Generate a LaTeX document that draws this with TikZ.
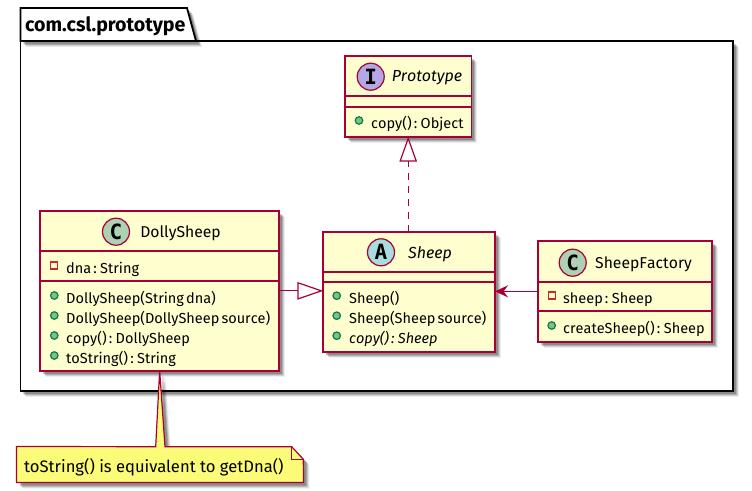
\documentclass[tikz,border=0pt]{standalone}
\usepackage{fontspec}
\setmainfont{Fira Sans}
\newfontfamily\rowfont{Fira Sans}[WordSpace=0.55,Kerning=Off]
\newfontfamily\badgefont{DejaVu Sans Mono}
\usetikzlibrary{arrows.meta,shadows}
\definecolor{umlline}{HTML}{A80036}
\definecolor{umlfill}{HTML}{FEFECE}
\definecolor{notefill}{HTML}{FBFB77}
\definecolor{badgeC}{HTML}{ADD1B2}
\definecolor{badgeI}{HTML}{B4A7E5}
\definecolor{badgeA}{HTML}{A9DCDF}
\definecolor{dotfill}{HTML}{84BE84}
\definecolor{dotline}{HTML}{038048}
\definecolor{privline}{HTML}{C82930}
\tikzset{
  softshadow/.style={
    drop shadow={shadow xshift=6pt,shadow yshift=-6pt,fill=black,opacity=.07},
    drop shadow={shadow xshift=5pt,shadow yshift=-5pt,fill=black,opacity=.12},
    drop shadow={shadow xshift=4pt,shadow yshift=-4pt,fill=black,opacity=.16},
    drop shadow={shadow xshift=3pt,shadow yshift=-3pt,fill=black,opacity=.2}},
  classbox/.style={draw=umlline,fill=umlfill,line width=1.8pt,inner sep=0pt,outer sep=0pt,softshadow},
  divider/.style={draw=umlline,line width=1.8pt},
  badge/.style={circle,draw=umlline,line width=1.2pt,minimum size=27pt,inner sep=0pt,font=\badgefont\fontsize{21}{21}\selectfont\bfseries},
  title/.style={inner sep=0pt,font=\rowfont\fontsize{15.7}{19}\selectfont},
  row/.style={anchor=base west,inner sep=0pt,font=\rowfont\fontsize{14.5}{17}\selectfont},
  pubdot/.style={circle,draw=dotline,fill=dotfill,line width=1.2pt,minimum size=7.5pt,inner sep=0pt},
  privbox/.style={rectangle,draw=privline,line width=1.2pt,minimum size=7pt,inner sep=0pt},
  pkgline/.style={draw=black,line width=1.8pt},
  link/.style={draw=umlline,line width=1.2pt}
}
\begin{document}
\begin{tikzpicture}[x=1pt,y=-1pt]
\useasboundingbox (0,0) rectangle (752,490);

\node[pkgline,fill=white,softshadow,inner sep=0pt,outer sep=0pt,minimum width=712.5pt,minimum height=350pt] (pkg) at (376.7,216) {};%package
\draw[pkgline,fill=white,softshadow] (pkg.north west) -- (20.5,8) -- (187,8) -- (196,41) -- cycle;
\node[anchor=base west,inner sep=0pt,font=\fontsize{19.6}{22}\selectfont\bfseries] (pkgname) at (25,31) {com.csl.prototype};

\node[classbox,minimum width=126.5pt,minimum height=80.7pt] (proto) at (408.2,96.3) {};%Prototype
\draw[divider] (345,96) -- (471.5,96);
\draw[divider] (345,106.7) -- (471.5,106.7);
\node[badge,fill=badgeI] (protoI) at (370.7,76.7) {I};
\node[title,font=\rowfont\itshape\fontsize{16}{19}\selectfont] (protoname) at (427,78) {Prototype};
\node[pubdot] (protod1) at (359,120.5) {};
\node[row] (protor1) at (371,128) {copy() : Object};

\node[classbox,minimum width=171.7pt,minimum height=120pt] (sheep) at (409.2,291.7) {};%Sheep
\draw[divider] (323.3,271.7) -- (495,271.7);
\draw[divider] (323.3,281.7) -- (495,281.7);
\node[badge,fill=badgeA] (sheepA) at (381,252.3) {A};
\node[title,font=\rowfont\itshape\fontsize{16}{19}\selectfont] (sheepname) at (430,254) {Sheep};
\node[pubdot] (sheepd1) at (336.7,295.7) {};
\node[pubdot] (sheepd2) at (336.7,315.7) {};
\node[pubdot] (sheepd3) at (336.7,335.7) {};
\node[row] (sheepr1) at (349,303) {Sheep()};
\node[row] (sheepr2) at (349,323) {Sheep(Sheep source)};
\node[row,font=\rowfont\itshape\fontsize{14.5}{17}\selectfont] (sheepr3) at (349,343) {copy() : Sheep};

\node[classbox,minimum width=173.4pt,minimum height=100.7pt] (factory) at (625,291.35) {};%SheepFactory
\draw[divider] (538.3,281.7) -- (711.7,281.7);
\draw[divider] (538.3,311.3) -- (711.7,311.3);
\node[badge,fill=badgeC] (factoryC) at (572.7,262.7) {C};
\node[title] (factoryname) at (643.5,264) {SheepFactory};
\node[privbox] (factoryd1) at (551.7,295.5) {};
\node[pubdot] (factoryd2) at (551.7,325.5) {};
\node[row] (factoryr1) at (563,303) {sheep : Sheep};
\node[row] (factoryr2) at (563,333) {createSheep() : Sheep};

\node[classbox,minimum width=239.3pt,minimum height=159.7pt] (dolly) at (159.65,290.85) {};%DollySheep
\draw[divider] (40,251) -- (279.3,251);
\draw[divider] (40,281.3) -- (279.3,281.3);
\node[badge,fill=badgeC] (dollyC) at (116,231.7) {C};
\node[title] (dollyname) at (180.5,233) {DollySheep};
\node[privbox] (dollyd1) at (54.3,265.5) {};
\node[pubdot] (dollyd2) at (54.3,295.5) {};
\node[pubdot] (dollyd3) at (54.3,315.5) {};
\node[pubdot] (dollyd4) at (54.3,335.5) {};
\node[pubdot] (dollyd5) at (54.3,355.5) {};
\node[row] (dollyr1) at (66,273) {dna : String};
\node[row] (dollyr2) at (66,303) {DollySheep(String dna)};
\node[row] (dollyr3) at (66,323) {DollySheep(DollySheep source)};
\node[row] (dollyr4) at (66,343) {copy() : DollySheep};
\node[row] (dollyr5) at (66,363) {toString() : String};

\draw[link,dash pattern=on 6.5pt off 6.5pt,-{Triangle[open,fill=white,length=25pt,width=17.5pt]}] (sheep.north -| proto.south) -- (proto.south);
\draw[link,-{Triangle[open,fill=white,length=26pt,width=17.5pt]}] (dolly.east) -- (dolly.east -| sheep.west);
\draw[link,-{Stealth[length=13pt,width=12pt,inset=4.5pt]}] (factory.west) -- (factory.west -| sheep.east);

\node[inner sep=0pt,minimum width=286.6pt,minimum height=35.6pt] (note) at (160,464.5) {};%note
\draw[draw=umlline,fill=notefill,line width=1.2pt,softshadow,line join=miter] (note.north west) -- (155.7,446.7) -- (dolly.south) -- (165,446.7) -- (291.7,446.7) -- (303.3,459.3) -- (note.south east) -- (note.south west) -- cycle;
\draw[draw=umlline,line width=1.2pt] (291.7,446.7) -- (291.7,459.3) -- (303.3,459.3);
\node[anchor=base west,inner sep=0pt,font=\fontsize{16.6}{19}\selectfont] (notetext) at (24,472) {toString() is equivalent to getDna()};
\end{tikzpicture}
\end{document}
